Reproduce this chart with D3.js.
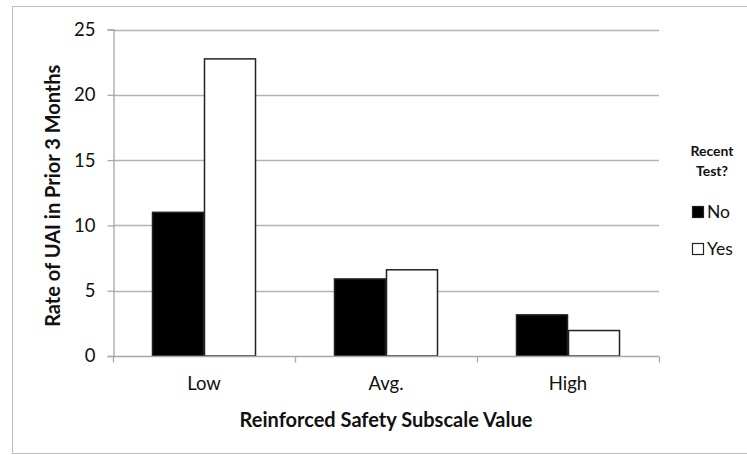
<!DOCTYPE html>
<html>
<head>
<meta charset="utf-8">
<script src="https://cdn.jsdelivr.net/npm/d3@7"></script>
<style>
  html, body { margin: 0; padding: 0; background: #fff; }
  svg { display: block; font-family: Lato, "Open Sans", sans-serif; }
</style>
</head>
<body>
<svg id="chart" width="747" height="455"></svg>
<script>
const categories = ["Low", "Avg.", "High"];
const seriesNames = ["No", "Yes"];
const noValues = [11.0, 5.9, 3.15];
const yesValues = [22.75, 6.6, 1.95];
const yTicks = [0, 5, 10, 15, 20, 25];
const yLabel = "Rate of UAI in Prior 3 Months";
const xLabel = "Reinforced Safety Subscale Value";
const legendTitle = ["Recent", "Test?"];

const seriesColors = { No: "#000000", Yes: "#ffffff" };
const seriesValues = { No: noValues, Yes: yesValues };

const svg = d3.select("#chart");

// outer frame
svg.append("rect")
  .attr("x", 12.5).attr("y", 6.5)
  .attr("width", 800).attr("height", 447)
  .attr("fill", "none").attr("stroke", "#bdbdbd").attr("stroke-width", 1);

const plot = { left: 113, right: 659, top: 29.5, bottom: 356 };

const x0 = d3.scaleBand()
  .domain(categories)
  .range([plot.left, plot.right])
  .paddingInner(0).paddingOuter(0);

const x1 = d3.scaleBand()
  .domain(seriesNames)
  .range([0, x0.bandwidth()])
  .paddingInner(0)
  .paddingOuter(0.75);

const y = d3.scaleLinear().domain([0, 25]).range([plot.bottom, plot.top]);

// gridlines
svg.append("g")
  .selectAll("line")
  .data(yTicks.filter(d => d > 0))
  .join("line")
  .attr("x1", plot.left).attr("x2", plot.right)
  .attr("y1", d => Math.round(y(d)) + 0.5).attr("y2", d => Math.round(y(d)) + 0.5)
  .attr("stroke", "#b3b3b3").attr("stroke-width", 1.3);

// y axis
const yAxis = svg.append("g")
  .attr("transform", `translate(${plot.left + 0.5},0)`)
  .call(d3.axisLeft(y).tickValues(yTicks).tickSize(6).tickPadding(12).tickFormat(d3.format("d")));
yAxis.select(".domain").attr("stroke", "#a8a8a8").attr("stroke-width", 1.3);
yAxis.selectAll(".tick line").attr("stroke", "#a8a8a8").attr("stroke-width", 1.3);
yAxis.selectAll(".tick text")
  .attr("fill", "#111").attr("font-size", 18.5)
  .attr("font-family", "Lato, 'Open Sans', sans-serif");

// bars
const groups = svg.append("g")
  .selectAll("g")
  .data(categories)
  .join("g")
  .attr("transform", d => `translate(${x0(d)},0)`);

groups.selectAll("rect")
  .data((c, i) => seriesNames.map(s => ({ s, v: seriesValues[s][i] })))
  .join("rect")
  .attr("x", d => x1(d.s) + 0.5)
  .attr("width", x1.bandwidth() - 1)
  .attr("y", d => y(d.v))
  .attr("height", d => y(0) - y(d.v))
  .attr("fill", d => seriesColors[d.s])
  .attr("stroke", "#222")
  .attr("stroke-width", 1.5);

// x axis
const xAxis = svg.append("g")
  .attr("transform", `translate(0,${Math.round(plot.bottom) + 0.5})`)
  .call(d3.axisBottom(x0).tickSize(0).tickPadding(20));
xAxis.select(".domain").remove();
xAxis.append("line")
  .attr("x1", plot.left).attr("x2", plot.right)
  .attr("stroke", "#a8a8a8").attr("stroke-width", 1.3);
xAxis.selectAll(".tick text")
  .attr("fill", "#111").attr("font-size", 18.5)
  .attr("font-family", "Lato, 'Open Sans', sans-serif");
// category boundary ticks
const boundaries = categories.map(c => x0(c)).concat([x0(categories[categories.length - 1]) + x0.bandwidth()]);
xAxis.selectAll(".bt")
  .data(boundaries)
  .join("line")
  .attr("class", "bt")
  .attr("x1", d => Math.round(d) + 0.5).attr("x2", d => Math.round(d) + 0.5)
  .attr("y1", 0).attr("y2", 6)
  .attr("stroke", "#a8a8a8").attr("stroke-width", 1.3);

// axis titles
svg.append("text")
  .attr("x", (plot.left + plot.right) / 2)
  .attr("y", 427)
  .attr("text-anchor", "middle")
  .attr("font-size", 20).attr("font-weight", "bold").attr("fill", "#111")
  .text(xLabel);

svg.append("text")
  .attr("transform", `translate(60,${(plot.top + plot.bottom) / 2 + 3}) rotate(-90)`)
  .attr("text-anchor", "middle")
  .attr("font-size", 20).attr("font-weight", "bold").attr("fill", "#111")
  .text(yLabel);

// legend
const lg = svg.append("g");
lg.selectAll("text.title")
  .data(legendTitle)
  .join("text")
  .attr("class", "title")
  .attr("x", 712).attr("y", (d, i) => 156 + i * 20)
  .attr("text-anchor", "middle")
  .attr("font-size", 14).attr("font-weight", "bold").attr("fill", "#111")
  .text(d => d);

const items = lg.selectAll("g.item")
  .data(seriesNames)
  .join("g")
  .attr("class", "item")
  .attr("transform", (d, i) => `translate(692,${206 + i * 37})`);
items.append("rect")
  .attr("x", 0.5).attr("y", 0.5).attr("width", 11).attr("height", 11)
  .attr("fill", d => seriesColors[d]).attr("stroke", "#222").attr("stroke-width", 1.2);
items.append("text")
  .attr("x", 15).attr("y", 12)
  .attr("font-size", 17.5).attr("fill", "#111")
  .text(d => d);
</script>
</body>
</html>
